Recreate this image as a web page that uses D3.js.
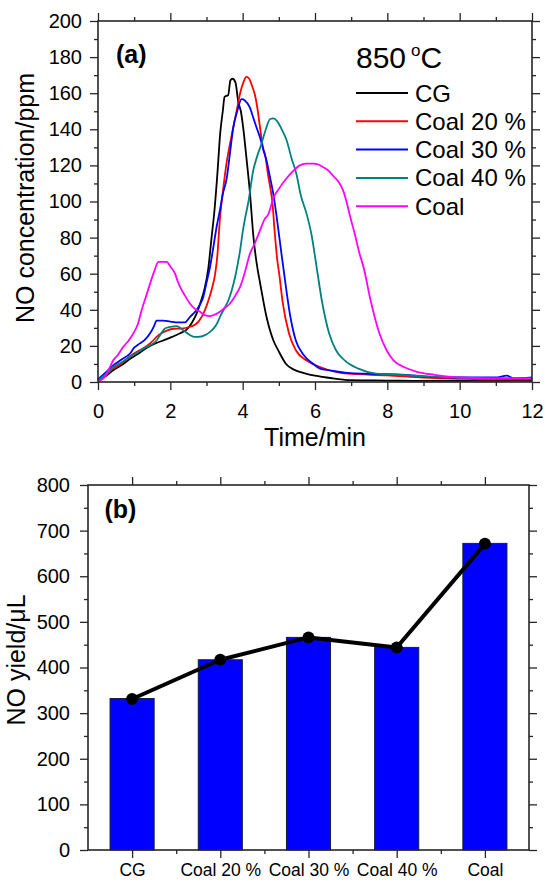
<!DOCTYPE html>
<html>
<head>
<meta charset="utf-8">
<script src="https://cdn.jsdelivr.net/npm/d3@7"></script>
<style>
  body { margin: 0; background: #fff; }
  svg { display: block; font-family: "Liberation Sans", Arial, sans-serif; }
</style>
</head>
<body>
<svg id="chart" width="546" height="882"></svg>
<script>
  // ---------------- data ----------------
  const seriesNames = ["CG", "Coal 20 %", "Coal 30 %", "Coal 40 %", "Coal"];
  const seriesColors = ["#000000", "#ff0000", "#0000ff", "#008080", "#ff00ff"];

  // [time (min), NO (ppm)]
  const cgCurve = [[0,1],[0.2,3],[0.42,6.5],[0.7,10],[0.9,13],[1.1,15.5],[1.35,19],[1.6,21.5],[1.8,23],
    [2.05,25],[2.27,27],[2.45,29],[2.6,33],[2.73,38],[2.85,45],[2.95,52],[3.05,63],[3.14,80],[3.22,95],
    [3.3,115],[3.38,138],[3.45,150],[3.5,158],[3.6,159],[3.66,167],[3.72,168],[3.8,166],[3.88,155],
    [3.95,150],[4.02,140],[4.1,125],[4.2,105],[4.3,80],[4.4,64],[4.48,55],[4.66,36],[4.85,23],[4.98,17.7],
    [5.2,10],[5.4,7],[5.6,5.5],[6.0,3.5],[6.5,2],[7.0,1],[8,0.8],[9,0.6],[10,0.6],[11,0.7],[12,0.8]];
  const coal20Curve = [[0,1],[0.2,3.5],[0.42,7.4],[0.7,11],[0.9,14.5],[1.1,17],[1.35,20],[1.5,22.5],
    [1.62,25],[1.75,27],[1.9,28.5],[2.1,29.5],[2.3,29.6],[2.54,30.6],[2.7,32],[2.8,34],[2.96,40],[3.05,45],
    [3.14,51],[3.24,60],[3.3,70],[3.37,90],[3.45,105],[3.56,122],[3.65,132],[3.74,141],[3.85,152],[3.93,160],
    [4.02,166],[4.1,169],[4.18,168],[4.26,164],[4.34,159],[4.42,150],[4.48,141],[4.56,130],[4.62,126],
    [4.7,115],[4.76,108],[4.82,100],[4.89,82],[4.96,67],[5.01,60],[5.1,45],[5.28,27],[5.47,17.6],[5.76,12],
    [6.14,8.3],[6.9,4.6],[8,3.7],[9,2.5],[10,1.8],[11,1.4],[12,1.5]];
  const coal30Curve = [[0,1.5],[0.2,5],[0.42,9.2],[0.65,12.5],[0.885,15.8],[1.0,19],[1.16,21.4],[1.3,23.5],
    [1.44,27],[1.55,31],[1.62,34],[1.8,34],[2.0,33.5],[2.2,33],[2.4,33],[2.54,36],[2.73,40],[2.82,43],
    [2.91,47],[3.0,55],[3.1,64],[3.2,76],[3.28,86],[3.37,95],[3.45,104],[3.56,113],[3.65,127],[3.74,141],
    [3.85,150],[3.97,156.7],[4.06,156],[4.2,152],[4.3,146],[4.4,140],[4.48,135.5],[4.58,128],[4.66,122.6],
    [4.76,113],[4.85,104],[4.95,90],[5.06,73],[5.18,55],[5.32,36],[5.47,23],[5.66,15.7],[5.95,10],
    [6.14,7.4],[6.4,6.5],[6.9,5],[7.5,4.5],[8.5,4],[9,3],[10,2.5],[11,2.5],[11.3,3.5],[11.5,2],[12,2.5]];
  const coal40Curve = [[0,1],[0.2,4],[0.42,8.3],[0.7,11.5],[0.885,14],[1.1,16.5],[1.35,19.5],[1.5,21],
    [1.62,23],[1.75,27],[1.85,29.6],[2.0,30.5],[2.17,31],[2.27,30],[2.36,28.7],[2.54,26],[2.65,25],
    [2.77,25],[2.96,26],[3.08,27.5],[3.19,29.6],[3.28,32],[3.37,36],[3.5,41],[3.6,45],[3.7,51],[3.79,58],
    [3.86,65],[3.93,73],[4.0,83],[4.06,90],[4.16,100],[4.29,117],[4.4,125],[4.52,132],[4.64,140],
    [4.76,145.7],[4.85,146],[4.94,144.8],[5.08,140],[5.22,133.7],[5.35,124],[5.49,115],[5.6,104],[5.77,93],
    [5.9,82],[6.05,63],[6.19,45],[6.39,27],[6.58,17.6],[6.82,12],[7.2,7.4],[7.69,4.6],[8.5,3.8],[9.2,3],
    [10,2.5],[11,2],[12,2]];
  const coalCurve = [[0,0.5],[0.15,2],[0.3,7],[0.42,12],[0.55,15],[0.7,19.5],[0.85,23],[0.98,27],[1.1,32],
    [1.21,40],[1.32,47],[1.44,54.5],[1.55,61],[1.67,66.5],[1.9,66.5],[2.0,64],[2.13,60],[2.2,56],[2.27,52.7],
    [2.4,48],[2.54,43.5],[2.68,40.5],[2.82,38.9],[2.95,37],[3.1,36.5],[3.25,37.5],[3.37,38.9],[3.5,41],
    [3.65,43.5],[3.8,48],[3.93,52.7],[4.05,60],[4.2,71],[4.34,77],[4.48,84],[4.6,90],[4.71,93],[4.85,102],
    [5.0,107],[5.22,113],[5.4,117],[5.58,120],[5.75,121],[5.95,121],[6.1,120.5],[6.23,119],[6.38,117],
    [6.51,114],[6.65,111],[6.78,106],[6.87,100],[6.98,91],[7.1,82],[7.22,72],[7.35,63],[7.54,45],[7.78,27],
    [7.98,17.6],[8.17,12],[8.46,8.3],[8.85,5.5],[9.3,4],[10,2.5],[11,2],[12,2]];
  const curves = [cgCurve, coal20Curve, coal30Curve, coal40Curve, coalCurve];

  const timeTicks = [0, 2, 4, 6, 8, 10, 12];
  const timeMinor = [1, 3, 5, 7, 9, 11];
  const ppmTicks = [0, 20, 40, 60, 80, 100, 120, 140, 160, 180, 200];
  const ppmMinor = [10, 30, 50, 70, 90, 110, 130, 150, 170, 190];

  // panel (b): NO yield (uL)
  const yieldCategories = ["CG", "Coal 20 %", "Coal 30 %", "Coal 40 %", "Coal"];
  const yieldBars = [332, 417, 466, 444, 672];
  const yieldLine = [331, 417, 466, 444, 671];
  const yieldTicks = [0, 100, 200, 300, 400, 500, 600, 700, 800];
  const yieldMinor = [50, 150, 250, 350, 450, 550, 650, 750];

  // ---------------- drawing ----------------
  const svg = d3.select("#chart");
  const ink = "#262626";

  function styleAxis(sel, fontSize) {
    sel.select(".domain").remove();
    sel.selectAll(".tick line").attr("stroke", ink).attr("stroke-width", 1.3);
    sel.selectAll(".tick text").attr("fill", "#000").attr("font-size", fontSize)
      .attr("font-family", "'Liberation Sans', Arial, sans-serif");
    return sel;
  }

  // ticks outward on all four sides, like the original plot
  function frameAxes(g, x, y, w, h, xMaj, xMin, yMaj, yMin, xFormat, yFont, xFont, yPad, xPad) {
    const bottom = styleAxis(g.append("g").attr("transform", `translate(0,${h})`)
      .call(d3.axisBottom(x).tickValues(xMaj).tickSize(8).tickPadding(xPad).tickFormat(xFormat)), xFont);
    styleAxis(g.append("g").attr("transform", `translate(0,${h})`)
      .call(d3.axisBottom(x).tickValues(xMin).tickSize(4).tickFormat("")), xFont);
    styleAxis(g.append("g").call(d3.axisTop(x).tickValues(xMaj).tickSize(8).tickFormat("")), xFont);
    styleAxis(g.append("g").call(d3.axisTop(x).tickValues(xMin).tickSize(4).tickFormat("")), xFont);
    styleAxis(g.append("g").call(d3.axisLeft(y).tickValues(yMaj).tickSize(8).tickPadding(yPad)
      .tickFormat(d3.format("d"))), yFont);
    styleAxis(g.append("g").call(d3.axisLeft(y).tickValues(yMin).tickSize(4).tickFormat("")), yFont);
    styleAxis(g.append("g").attr("transform", `translate(${w},0)`)
      .call(d3.axisRight(y).tickValues(yMaj).tickSize(8).tickFormat("")), yFont);
    styleAxis(g.append("g").attr("transform", `translate(${w},0)`)
      .call(d3.axisRight(y).tickValues(yMin).tickSize(4).tickFormat("")), yFont);
    g.append("rect").attr("width", w).attr("height", h)
      .attr("fill", "none").attr("stroke", ink).attr("stroke-width", 1.6);
    return bottom;
  }

  // ===== Panel (a) =====
  const A = { left: 98, top: 21, w: 434, h: 361 };
  const ga = svg.append("g").attr("transform", `translate(${A.left},${A.top})`);
  const xA = d3.scaleLinear().domain([0, 12]).range([0, A.w]);
  const yA = d3.scaleLinear().domain([0, 200]).range([A.h, 0]);

  const lineA = d3.line().x(d => xA(d[0])).y(d => yA(d[1])).curve(d3.curveMonotoneX);

  ga.selectAll(".curve")
    .data(curves)
    .enter().append("path")
    .attr("class", "curve")
    .attr("d", lineA)
    .attr("fill", "none")
    .attr("stroke", (d, i) => seriesColors[i])
    .attr("stroke-width", 1.8)
    .attr("stroke-linejoin", "round");

  frameAxes(ga, xA, yA, A.w, A.h, timeTicks, timeMinor, ppmTicks, ppmMinor, d3.format("d"), 20, 20, 8, 14);

  ga.append("text").attr("x", A.w / 2).attr("y", A.h + 64)
    .attr("text-anchor", "middle").attr("font-size", 25).text("Time/min");
  ga.append("text").attr("transform", `translate(${34 - A.left},${198 - A.top}) rotate(-90)`)
    .attr("text-anchor", "middle").attr("font-size", 25).text("NO concentration/ppm");

  ga.append("text").attr("x", 18).attr("y", 42)
    .attr("font-size", 25).attr("font-weight", "bold").text("(a)");

  // temperature label
  const tLabel = ga.append("text").attr("x", 258).attr("y", 47).attr("font-size", 30);
  tLabel.append("tspan").text("850");
  tLabel.append("tspan").attr("font-size", 17).attr("dx", 5).attr("dy", -12).text("o");
  tLabel.append("tspan").attr("dx", 0).attr("dy", 12).text("C");

  // legend
  const legend = ga.append("g").attr("transform", "translate(258,72)");
  const legendRows = legend.selectAll("g")
    .data(seriesNames)
    .enter().append("g")
    .attr("transform", (d, i) => `translate(0,${i * 28.3})`);
  legendRows.append("line")
    .attr("x1", 0).attr("x2", 52).attr("y1", 0).attr("y2", 0)
    .attr("stroke", (d, i) => seriesColors[i]).attr("stroke-width", 2);
  legendRows.append("text")
    .attr("x", 59).attr("y", 8.5).attr("font-size", 24).text(d => d);

  // ===== Panel (b) =====
  const B = { left: 88, top: 485, w: 441, h: 365 };
  const gb = svg.append("g").attr("transform", `translate(${B.left},${B.top})`);
  const xB = d3.scaleBand().domain(yieldCategories).range([0, B.w]).paddingInner(0.5).paddingOuter(0.25);
  const yB = d3.scaleLinear().domain([0, 800]).range([B.h, 0]);
  const xBCenter = d => xB(d) + xB.bandwidth() / 2;

  gb.selectAll(".bar")
    .data(yieldBars)
    .enter().append("rect")
    .attr("class", "bar")
    .attr("x", (d, i) => xB(yieldCategories[i]))
    .attr("y", d => yB(d))
    .attr("width", xB.bandwidth())
    .attr("height", d => B.h - yB(d))
    .attr("fill", "#0000ff")
    .attr("stroke", "#1c1c3a").attr("stroke-width", 1);

  // index scale for the category axis: majors at categories, minors between them
  const xBAxis = d3.scaleLinear().domain([-0.5, yieldCategories.length - 0.5]).range([0, B.w]);
  const catIdx = d3.range(yieldCategories.length);
  const minorIdx = d3.range(1, yieldCategories.length).map(k => k - 0.5);

  frameAxes(gb, xBAxis, yB, B.w, B.h, catIdx, minorIdx, yieldTicks, yieldMinor,
    i => yieldCategories[i], 20, 17.5, 10, 6);

  const lineB = d3.line().x((d, i) => xBCenter(yieldCategories[i])).y(d => yB(d));
  gb.append("path").datum(yieldLine)
    .attr("d", lineB).attr("fill", "none")
    .attr("stroke", "#000").attr("stroke-width", 4).attr("stroke-linejoin", "round");
  gb.selectAll(".dot")
    .data(yieldLine)
    .enter().append("circle")
    .attr("class", "dot")
    .attr("cx", (d, i) => xBCenter(yieldCategories[i]))
    .attr("cy", d => yB(d))
    .attr("r", 6)
    .attr("fill", "#000");

  gb.append("text").attr("transform", `translate(${25 - B.left},${660 - B.top}) rotate(-90)`)
    .attr("text-anchor", "middle").attr("font-size", 25).text("NO yield/\u03bcL");
  gb.append("text").attr("x", 16.5).attr("y", 33)
    .attr("font-size", 25).attr("font-weight", "bold").text("(b)");
</script>
</body>
</html>
